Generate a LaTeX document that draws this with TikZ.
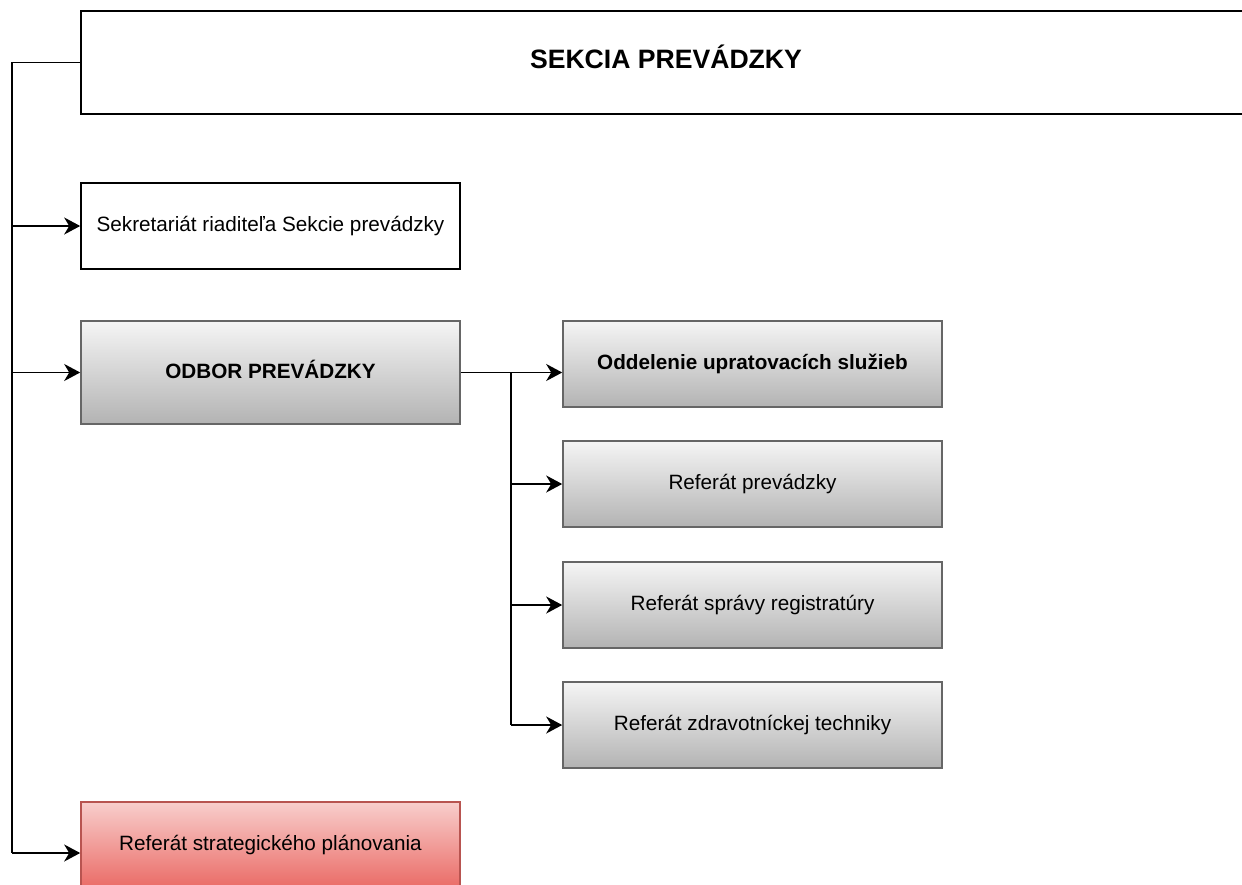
\documentclass[tikz,border=0pt]{standalone}
\usepackage{fontspec}
\setmainfont{Liberation Sans}
\usetikzlibrary{arrows.meta}

\definecolor{grayline}{HTML}{666666}
\definecolor{graytop}{HTML}{F5F5F5}
\definecolor{graybot}{HTML}{B3B3B3}
\definecolor{redline}{HTML}{B85450}
\definecolor{redtop}{HTML}{F8CECC}
\definecolor{redbot}{HTML}{EA6B66}

\tikzset{
  unit/.style={draw, line width=0.8pt, inner sep=0pt, minimum width=189.5pt,
    minimum height=43pt, font=\fontsize{10.35}{12}\selectfont, align=center,
    text height=0.75em, text depth=0.2em},
  plain/.style={unit, draw=black, fill=white},
  grayunit/.style={unit, draw=grayline, top color=graytop, bottom color=graybot},
  redunit/.style={unit, draw=redline, top color=redtop, bottom color=redbot},
  link/.style={line width=0.9pt, draw=black},
  arr/.style={link, -{Stealth[length=8pt,width=8.5pt,inset=2.5pt]}}
}

\begin{document}
\begin{tikzpicture}[x=0.5pt,y=-0.5pt]
  \useasboundingbox (0,0) rectangle (1242,884);
  \clip (0,0) rectangle (1242,884);
  \def\xl{270.5}
  \def\xr{752.5}
  % boxes
  \node[plain, minimum width=585pt, minimum height=51.5pt,
    font=\fontsize{13.3}{16}\selectfont\bfseries] (sekcia) at (666,62.5) {SEKCIA PREVÁDZKY};
  \node[plain] (sekret) at (\xl,226) {Sekretariát riaditeľa Sekcie prevádzky};
  \node[grayunit, minimum height=51.5pt, font=\fontsize{10.35}{12}\selectfont\bfseries] (odbor) at (\xl,372.5) {ODBOR PREVÁDZKY};
  \node[grayunit, font=\fontsize{10.35}{12}\selectfont\bfseries] (uprat) at (\xr,364) {Oddelenie upratovacích služieb};
  \node[grayunit] (refprev) at (\xr,484) {Referát prevádzky};
  \node[grayunit] (refreg) at (\xr,605) {Referát správy registratúry};
  \node[grayunit] (refzdrav) at (\xr,725) {Referát zdravotníckej techniky};
  \node[redunit] (refstrat) at (\xl,845) {Referát strategického plánovania};
  %
  % left trunk
  \coordinate (lbot) at (12,853);
  \draw[link] (sekcia.west) -| (lbot);
  \draw[arr] (lbot |- sekret.west) -- (sekret.west);
  \draw[arr] (lbot |- odbor.west) -- (odbor.west);
  \draw[arr] (lbot) -- (lbot -| refstrat.west);
  %
  % right trunk
  \coordinate (rbot) at (511,725);
  \draw[arr] (odbor.east) -- (odbor.east -| uprat.west);
  \draw[link] (rbot |- odbor.east) -- (rbot);
  \foreach \n in {refprev,refreg,refzdrav}
    \draw[arr] (rbot |- \n.west) -- (\n.west);
\end{tikzpicture}
\end{document}
